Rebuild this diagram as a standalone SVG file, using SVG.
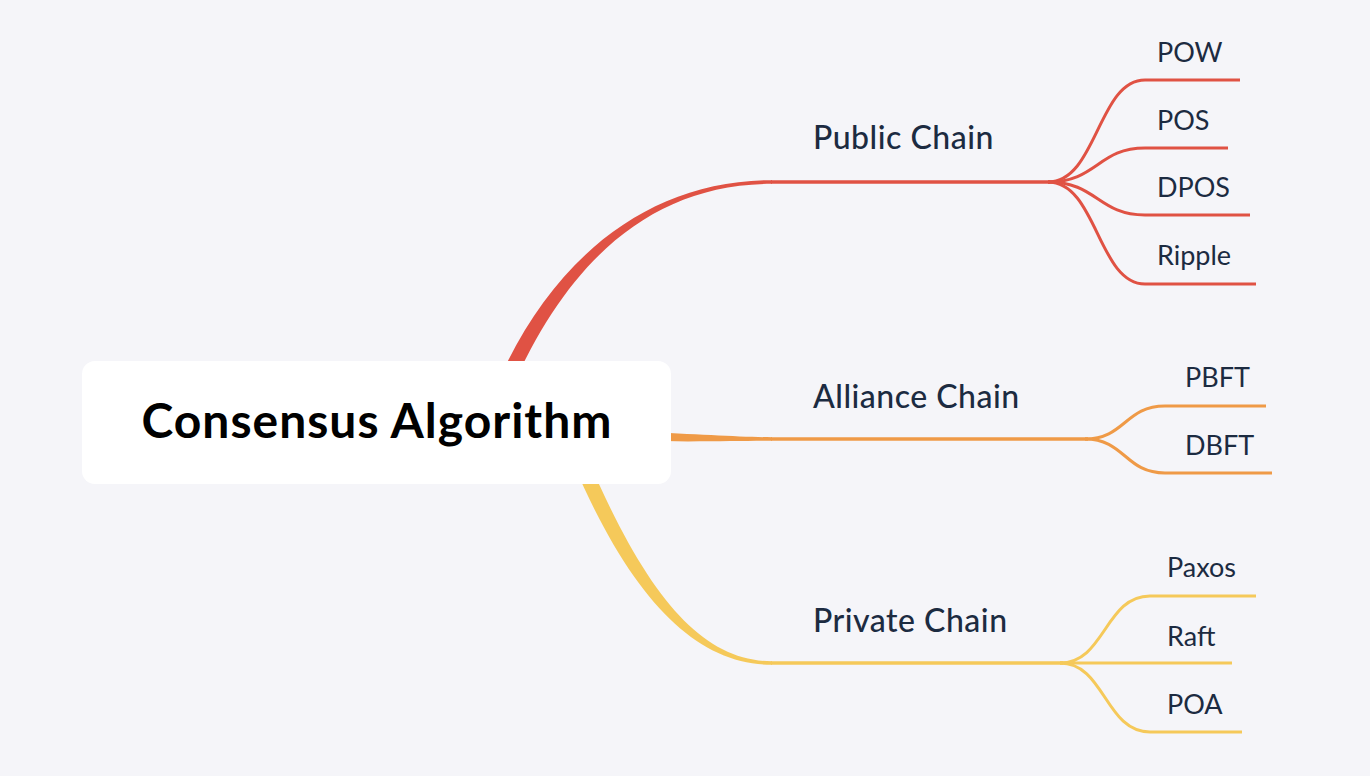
<svg xmlns="http://www.w3.org/2000/svg" width="1370" height="776" viewBox="0 0 1370 776">
<style>
.bg{fill:#f5f5f9}
.box{fill:#ffffff}
.title{font-family:Lato,"Liberation Sans",sans-serif;font-weight:700;font-size:48px;letter-spacing:1px;fill:#000000}
.lbl{font-family:Lato,"Liberation Sans",sans-serif;font-weight:500;font-size:32px;letter-spacing:0.5px;fill:#1c2b41}
.leaf{font-family:Lato,"Liberation Sans",sans-serif;font-weight:400;font-size:27px;fill:#1c2b41}
.red{stroke:#e05244;fill:none}
.org{stroke:#ef9a47;fill:none}
.yel{stroke:#f5c95a;fill:none}
.main{stroke-width:3.5}
.sub{stroke-width:3;stroke-linecap:butt}
</style>
<rect class="bg" x="0" y="0" width="1370" height="776"/>
<g id="connectors">
  <path d="M 498 382 C 553 257, 650 180.2, 772 180.2 L 772 183.8 C 650 183.8, 567 263, 512 388 Z" fill="#e05244"/>
  <path class="red main" d="M 771 182 L 1050 182"/>
  <path class="red sub" d="M 1048 182 C 1097 182, 1098 80, 1145 80 L 1240 80"/>
  <path class="red sub" d="M 1048 182 C 1097 182, 1098 148, 1145 148 L 1228 148"/>
  <path class="red sub" d="M 1048 182 C 1097 182, 1098 215, 1145 215 L 1250 215"/>
  <path class="red sub" d="M 1048 182 C 1097 182, 1098 284, 1145 284 L 1256 284"/>

  <path d="M 640 432 C 700 434, 740 437.2, 772 437.2 L 772 440.8 C 740 440.8, 700 442, 640 441 Z" fill="#ef9a47"/>
  <path class="org main" d="M 771 439 L 1088 439"/>
  <path class="org sub" d="M 1085 439 C 1125 439, 1125 406, 1165 406 L 1266 406"/>
  <path class="org sub" d="M 1085 439 C 1125 439, 1125 473, 1165 473 L 1272 473"/>

  <path d="M 587 457 C 647 597, 702 661.2, 772 661.2 L 772 664.8 C 698 664.8, 633 603, 573 463 Z" fill="#f5c95a"/>
  <path class="yel main" d="M 771 663 L 1063 663"/>
  <path class="yel sub" d="M 1060 663 C 1105 663, 1105 596, 1150 596 L 1256 596"/>
  <path class="yel sub" d="M 1060 663 L 1232 663"/>
  <path class="yel sub" d="M 1060 663 C 1105 663, 1105 732, 1150 732 L 1242 732"/>
</g>
<g id="root">
  <rect class="box" x="82" y="361" width="589" height="123" rx="13"/>
  <text class="title" x="377" y="438" text-anchor="middle">Consensus Algorithm</text>
</g>
<g id="public-chain"><text class="lbl" x="813" y="149">Public Chain</text></g>
<g id="alliance-chain"><text class="lbl" x="813" y="408">Alliance Chain</text></g>
<g id="private-chain"><text class="lbl" x="813" y="632">Private Chain</text></g>
<g id="pow"><text class="leaf" x="1157" y="62">POW</text></g>
<g id="pos"><text class="leaf" x="1157" y="130">POS</text></g>
<g id="dpos"><text class="leaf" x="1157" y="197">DPOS</text></g>
<g id="ripple"><text class="leaf" x="1157" y="265">Ripple</text></g>
<g id="pbft"><text class="leaf" x="1185" y="387">PBFT</text></g>
<g id="dbft"><text class="leaf" x="1185" y="455">DBFT</text></g>
<g id="paxos"><text class="leaf" x="1167" y="577">Paxos</text></g>
<g id="raft"><text class="leaf" x="1167" y="646">Raft</text></g>
<g id="poa"><text class="leaf" x="1167" y="714">POA</text></g>
</svg>
